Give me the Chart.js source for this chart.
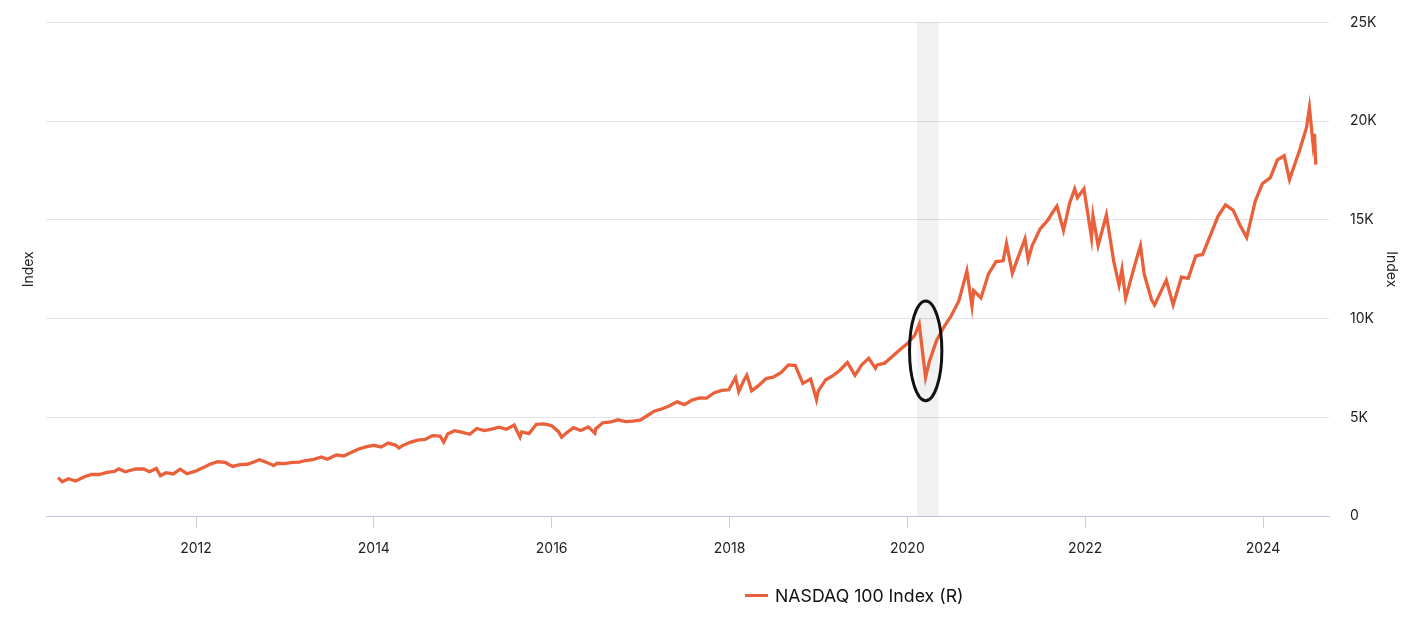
<!DOCTYPE html>
<html>
<head>
<meta charset="utf-8">
<script src="https://cdn.jsdelivr.net/npm/chart.js@4.4.1/dist/chart.umd.min.js"></script>
<style>
  html, body { margin: 0; padding: 0; background: #fff; }
  #wrap { position: relative; width: 1420px; height: 618px; }
  #legend { position: absolute; left: 745px; top: 585px; font: 17.7px Inter, sans-serif; color: #111;
            display: flex; align-items: center; white-space: nowrap; }
  #legend .sw { display: inline-block; width: 23px; height: 3px; background: #e9603b; margin-right: 7px; }
</style>
</head>
<body>
<div id="wrap">
  <canvas id="chart"></canvas>
  <div id="legend"><span class="sw"></span><span>NASDAQ 100 Index (R)</span></div>
</div>
<script>
// NASDAQ 100 (monthly closes plus a few swing highs/lows)
const dates = [
  '2010-06-14','2010-07-01','2010-07-26','2010-08-25','2010-09-30','2010-10-29','2010-11-30','2010-12-31',
  '2011-01-31','2011-02-18','2011-03-16','2011-04-29','2011-05-31','2011-06-24','2011-07-22','2011-08-08',
  '2011-08-31','2011-09-30','2011-10-28','2011-11-25','2011-12-30',
  '2012-01-31','2012-02-29','2012-03-30','2012-04-30','2012-05-31','2012-06-29','2012-07-31','2012-08-31',
  '2012-09-19','2012-10-31','2012-11-15','2012-11-30','2012-12-31',
  '2013-01-31','2013-02-28','2013-03-28','2013-04-30','2013-05-31','2013-06-24','2013-07-31','2013-08-30',
  '2013-09-30','2013-10-31','2013-11-29','2013-12-31',
  '2014-01-31','2014-02-28','2014-03-31','2014-04-14','2014-04-30','2014-05-30','2014-06-30','2014-07-31',
  '2014-08-29','2014-09-30','2014-10-15','2014-10-31','2014-11-28','2014-12-31',
  '2015-01-30','2015-02-27','2015-03-31','2015-04-30','2015-05-29','2015-06-30','2015-07-31','2015-08-24',
  '2015-08-31','2015-09-30','2015-10-30','2015-11-30','2015-12-31',
  '2016-01-29','2016-02-11','2016-02-29','2016-03-31','2016-04-29','2016-05-31','2016-06-27','2016-06-30',
  '2016-07-29','2016-08-31','2016-09-30','2016-10-31','2016-11-30','2016-12-30',
  '2017-01-31','2017-02-28','2017-03-31','2017-04-28','2017-05-31','2017-06-30','2017-07-31','2017-08-31',
  '2017-09-29','2017-10-31','2017-11-30','2017-12-29',
  '2018-01-26','2018-02-08','2018-02-28','2018-03-13','2018-04-02','2018-04-30','2018-05-31','2018-06-29',
  '2018-07-31','2018-08-31','2018-09-28','2018-10-29','2018-11-30','2018-12-24','2018-12-31',
  '2019-01-31','2019-02-28','2019-03-29','2019-04-30','2019-05-31','2019-06-28','2019-07-26','2019-08-23',
  '2019-08-30','2019-09-30','2019-10-31','2019-11-29','2019-12-31',
  '2020-01-31','2020-02-19','2020-03-16','2020-03-31','2020-04-30','2020-05-29','2020-06-30','2020-07-31',
  '2020-09-02','2020-09-23','2020-09-30','2020-10-30','2020-11-30','2020-12-31',
  '2021-01-29','2021-02-12','2021-03-08','2021-03-31','2021-04-29','2021-05-12','2021-05-28','2021-06-30',
  '2021-07-30','2021-08-31','2021-09-07','2021-10-04','2021-10-29','2021-11-19','2021-11-30','2021-12-27',
  '2022-01-27','2022-02-02','2022-02-23','2022-03-29','2022-04-29','2022-05-20','2022-06-01','2022-06-16',
  '2022-07-29','2022-08-16','2022-08-31','2022-09-30','2022-10-13','2022-11-30','2022-12-28',
  '2023-01-31','2023-02-28','2023-03-31','2023-04-28','2023-05-31','2023-06-30','2023-07-31','2023-08-31',
  '2023-09-29','2023-10-26','2023-11-30','2023-12-29',
  '2024-01-31','2024-02-29','2024-03-28','2024-04-19','2024-04-30','2024-05-31','2024-06-28','2024-07-10',
  '2024-07-25','2024-07-31','2024-08-05'
];
const nasdaq100 = [
  1950,1740,1900,1780,2000,2110,2110,2217,
  2265,2400,2250,2400,2390,2250,2420,2050,
  2200,2140,2380,2150,2278,
  2460,2640,2755,2720,2520,2615,2630,2770,
  2860,2660,2560,2680,2660,
  2730,2740,2820,2880,3000,2880,3100,3050,
  3220,3400,3510,3590,
  3500,3700,3600,3450,3580,3740,3850,3890,
  4080,4050,3750,4160,4330,4240,
  4150,4440,4330,4410,4510,4400,4610,4000,
  4270,4180,4650,4670,4590,
  4280,4000,4200,4480,4340,4520,4200,4420,
  4730,4770,4880,4790,4810,4860,
  5110,5330,5440,5580,5790,5650,5880,5990,
  5980,6250,6370,6400,
  7020,6310,6860,7130,6350,6610,6970,7040,
  7270,7660,7630,6720,6950,5900,6330,
  6910,7100,7380,7780,7130,7670,8000,7490,
  7660,7750,8080,8400,8730,
  9150,9720,7020,7810,8890,9550,10160,10900,
  12420,10630,11420,11050,12270,12890,
  12930,13800,12300,13090,14050,13000,13690,14550,
  14960,15580,15700,14470,15850,16570,16130,16570,
  14100,15200,13700,15250,12850,11700,12500,11040,
  12950,13700,12270,10970,10690,11950,10700,
  12100,12040,13180,13250,14250,15180,15760,15500,
  14720,14110,15950,16830,
  17140,18040,18250,17040,17440,18540,19680,20680,
  18830,19360,17800
];
const yearTicks = [2012, 2014, 2016, 2018, 2020, 2022, 2024];
const valueTicks = [0, 5000, 10000, 15000, 20000, 25000];
// shaded recession band (Feb-Apr 2020) and the ellipse drawn round the Covid dip
const recession = ['2020-02-10', '2020-05-08'];
const circled = { from: '2020-01-10', to: '2020-05-22', low: 5850, high: 10900 };

function decYear(s) {
  const [y, m, d] = s.split('-').map(Number);
  const start = Date.UTC(y, 0, 1), end = Date.UTC(y + 1, 0, 1);
  return y + (Date.UTC(y, m - 1, d) - start) / (end - start);
}

const points = dates.map((d, i) => ({ x: decYear(d), y: nasdaq100[i] }));
const LINE = '#e9603b';
const FONT = 'Inter, "Noto Sans", sans-serif';

const covidMarks = {
  id: 'covidMarks',
  beforeDatasetsDraw(chart) {
    const { ctx, chartArea: a, scales: { x } } = chart;
    const x0 = x.getPixelForValue(decYear(recession[0]));
    const x1 = x.getPixelForValue(decYear(recession[1]));
    ctx.save();
    ctx.fillStyle = 'rgba(0,0,0,0.055)';
    ctx.fillRect(x0, a.top, x1 - x0, a.bottom - a.top);
    ctx.restore();
  },
  afterDatasetsDraw(chart) {
    const { ctx, scales: { x, y } } = chart;
    const xa = x.getPixelForValue(decYear(circled.from));
    const xb = x.getPixelForValue(decYear(circled.to));
    const ya = y.getPixelForValue(circled.high);
    const yb = y.getPixelForValue(circled.low);
    ctx.save();
    ctx.strokeStyle = '#111';
    ctx.lineWidth = 3;
    ctx.beginPath();
    ctx.ellipse((xa + xb) / 2, (ya + yb) / 2, (xb - xa) / 2, (yb - ya) / 2, 0, 0, Math.PI * 2);
    ctx.stroke();
    ctx.restore();
  }
};

new Chart(document.getElementById('chart'), {
  type: 'line',
  data: {
    datasets: [{
      label: 'NASDAQ 100 Index (R)',
      data: points,
      yAxisID: 'y',
      borderColor: LINE,
      borderWidth: 3.3,
      pointRadius: 0,
      tension: 0,
      fill: false
    }]
  },
  options: {
    responsive: true,
    maintainAspectRatio: false,
    animation: false,
    layout: { padding: { top: 0, right: 0, bottom: 49, left: 0 } },
    plugins: { legend: { display: false }, tooltip: { enabled: false } },
    scales: {
      x: {
        type: 'linear',
        min: 2010.313,
        max: 2024.742,
        afterBuildTicks: s => { s.ticks = yearTicks.map(v => ({ value: v })); },
        ticks: { color: '#222', font: { family: FONT, size: 14 }, padding: 12, callback: v => String(v) },
        grid: { drawOnChartArea: false, drawTicks: true, tickLength: 12, color: '#cfcfd8' },
        border: { color: '#c4c4d6', width: 1 }
      },
      yL: {
        position: 'left',
        min: 0,
        max: 25000,
        ticks: { display: false },
        grid: { display: false },
        border: { display: false },
        title: { display: true, text: 'Index', color: '#222', font: { family: FONT, size: 14 }, padding: { top: 20, bottom: 0 } },
        afterFit: s => { s.width = 46; }
      },
      y: {
        position: 'right',
        min: 0,
        max: 25000,
        afterBuildTicks: s => { s.ticks = valueTicks.map(v => ({ value: v })); },
        ticks: {
          color: '#222', font: { family: FONT, size: 14 }, padding: 14,
          callback: v => v === 0 ? '0' : (v / 1000) + 'K'
        },
        grid: { drawTicks: true, tickLength: 7, tickColor: 'rgba(0,0,0,0)', color: '#e3e3ec' },
        border: { display: false },
        title: { display: true, text: 'Index', color: '#222', font: { family: FONT, size: 14 }, padding: { top: 20, bottom: 0 } },
        afterFit: s => { s.width = 91; }
      }
    }
  },
  plugins: [covidMarks]
});
</script>
</body>
</html>
